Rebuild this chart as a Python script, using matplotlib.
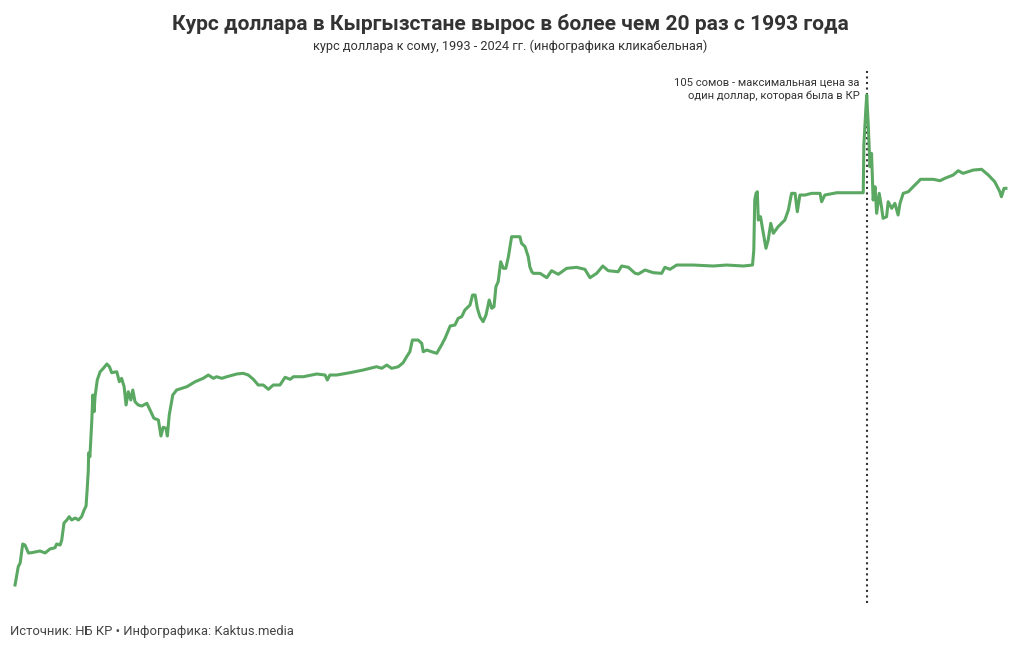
import matplotlib.pyplot as plt

plt.rcParams['font.family'] = ['Roboto', 'DejaVu Sans']

# position along the period (years, approximate) and som per 1 USD
t = [1993.40, 1993.50, 1993.56, 1993.64, 1993.71, 1993.82, 1993.92, 1994.18, 1994.34, 1994.49,
     1994.65, 1994.70, 1994.81, 1994.86, 1994.93, 1995.02, 1995.09, 1995.17, 1995.28, 1995.38,
     1995.48, 1995.56, 1995.62, 1995.66, 1995.69, 1995.70, 1995.74, 1995.80, 1995.83, 1995.87,
     1995.90, 1995.97, 1996.06, 1996.16, 1996.27, 1996.35, 1996.42, 1996.58, 1996.66, 1996.73,
     1996.81, 1996.87, 1996.94, 1997.02, 1997.08, 1997.15, 1997.25, 1997.36, 1997.52, 1997.62,
     1997.74, 1997.88, 1997.96, 1998.03, 1998.12, 1998.16, 1998.22, 1998.33, 1998.45, 1998.77,
     1999.03, 1999.28, 1999.44, 1999.60, 1999.70, 1999.86, 2000.02, 2000.33, 2000.53, 2000.69,
     2000.85, 2001.00, 2001.16, 2001.32, 2001.47, 2001.68, 2001.84, 2002.00, 2002.10, 2002.41,
     2002.83, 2003.09, 2003.16, 2003.24, 2003.45, 2003.87, 2004.28, 2004.70, 2004.86, 2005.02,
     2005.17, 2005.38, 2005.53, 2005.64, 2005.74, 2005.82, 2006.00, 2006.11, 2006.16, 2006.27,
     2006.42, 2006.58, 2006.73, 2006.84, 2007.00, 2007.15, 2007.25, 2007.36, 2007.46, 2007.62,
     2007.70, 2007.78, 2007.85, 2007.93, 2008.03, 2008.12, 2008.22, 2008.30, 2008.37, 2008.43,
     2008.50, 2008.58, 2008.66, 2008.74, 2008.82, 2008.92, 2009.18, 2009.23, 2009.34, 2009.44,
     2009.49, 2009.55, 2009.60, 2009.81, 2010.02, 2010.17, 2010.38, 2010.64, 2010.95, 2011.21,
     2011.37, 2011.58, 2011.77, 2011.94, 2012.25, 2012.36, 2012.57, 2012.78, 2012.88, 2013.09,
     2013.35, 2013.61, 2013.71, 2013.87, 2014.08, 2014.60, 2015.22, 2015.64, 2016.16, 2016.45,
     2016.49, 2016.52, 2016.56, 2016.60, 2016.63, 2016.70, 2016.77, 2016.87, 2016.94, 2017.02,
     2017.10, 2017.25, 2017.46, 2017.57, 2017.67, 2017.78, 2017.85, 2017.93, 2018.09, 2018.30,
     2018.56, 2018.61, 2018.71, 2019.08, 2019.91, 2019.93, 2019.99, 2020.02, 2020.07, 2020.12,
     2020.17, 2020.22, 2020.28, 2020.33, 2020.41, 2020.48, 2020.53, 2020.64, 2020.69, 2020.80,
     2020.90, 2021.00, 2021.06, 2021.16, 2021.32, 2021.47, 2021.63, 2021.70, 2022.10, 2022.31,
     2022.46, 2022.72, 2022.88, 2023.03, 2023.35, 2023.61, 2023.82, 2024.02, 2024.18, 2024.23,
     2024.31, 2024.37]
rate = [4.00, 7.77, 8.53, 12.45, 12.24, 10.60, 10.66, 11.01, 10.60, 11.42,
        11.69, 12.45, 12.24, 13.27, 16.78, 17.40, 18.08, 17.40, 17.81, 17.40,
        18.08, 19.46, 20.28, 24.26, 27.70, 31.21, 30.44, 38.01, 43.16, 39.72,
        42.81, 46.25, 47.96, 48.66, 49.55, 49.00, 47.76, 47.96, 45.90, 46.60,
        44.87, 41.10, 43.84, 42.13, 44.19, 41.78, 41.10, 40.89, 41.45, 40.07,
        38.36, 38.01, 34.71, 36.50, 36.30, 34.71, 39.04, 43.16, 44.19, 44.87,
        45.90, 46.60, 47.28, 46.60, 46.93, 46.60, 46.93, 47.49, 47.63, 47.28,
        46.39, 45.22, 45.22, 44.33, 45.22, 45.22, 46.81, 46.39, 46.93, 46.93,
        47.49, 47.28, 46.25, 47.28, 47.28, 47.76, 48.31, 48.99, 48.66, 49.34,
        48.66, 48.99, 49.82, 51.05, 52.08, 54.49, 54.49, 53.82, 52.08, 52.43,
        52.08, 51.75, 53.46, 54.85, 57.38, 57.59, 58.97, 59.30, 60.68, 61.71,
        63.77, 63.77, 61.03, 59.30, 58.27, 59.65, 62.74, 61.03, 61.36, 65.48,
        66.51, 70.63, 69.27, 69.27, 71.66, 75.79, 75.79, 74.43, 73.73, 71.66,
        69.60, 68.57, 68.24, 68.24, 67.34, 68.78, 68.04, 69.27, 69.48, 69.07,
        67.34, 68.24, 69.75, 68.78, 68.57, 69.75, 69.48, 68.24, 68.10, 68.92,
        68.37, 68.24, 69.48, 69.07, 69.95, 69.95, 69.75, 69.95, 69.75, 69.95,
        73.04, 83.35, 84.73, 85.06, 79.23, 79.91, 77.17, 73.40, 75.10, 78.55,
        76.49, 77.85, 79.23, 81.29, 84.73, 84.73, 80.94, 84.38, 84.38, 84.73,
        84.73, 83.00, 84.38, 84.85, 84.85, 94.68, 101.90, 105.00, 98.46, 90.21,
        92.97, 83.35, 86.09, 80.61, 84.73, 81.97, 79.58, 79.91, 83.00, 81.64,
        82.67, 80.26, 82.67, 84.73, 85.06, 86.09, 87.12, 87.62, 87.62, 87.33,
        87.82, 88.50, 89.39, 88.85, 89.53, 89.68, 88.50, 87.12, 85.06, 84.03,
        85.76, 85.76]

title = 'Курс доллара в Кыргызстане вырос в более чем 20 раз с 1993 года'
subtitle = 'курс доллара к сому, 1993 - 2024 гг. (инфографика кликабельная)'
source = 'Источник: НБ КР • Инфографика: Kaktus.media'
note = '105 сомов - максимальная цена за\nодин доллар, которая была в КР'

fig = plt.figure(figsize=(10.2, 6.5), dpi=100)
ax = fig.add_axes([0, 0, 1, 1])
ax.plot(t, rate, color='#5aa862', lw=2.2, solid_joinstyle='round', zorder=3)

imax = rate.index(max(rate))
ax.axvline(t[imax], ymin=0.072, ymax=0.893, color='#333333', lw=1.5, ls=':', zorder=2)
ax.annotate(note, xy=(t[imax], rate[imax]), xytext=(-7, 6), textcoords='offset pixels',
            ha='right', va='center', multialignment='right', fontsize=8.1, color='#333333',
            linespacing=1.35)

ax.set_xlim(1992.93, 2024.81)
ax.set_ylim(-9.4, 124.58)
ax.axis('off')

fig.text(0.5, 1 - 24 / 650, title, ha='center', va='center', fontsize=15.15,
         fontweight='bold', color='#333333')
fig.text(0.5, 1 - 46 / 650, subtitle, ha='center', va='center', fontsize=9.2, color='#333333')
fig.text(10 / 1020, 1 - 632 / 650, source, ha='left', va='center', fontsize=9.4, color='#444444')

fig.savefig('out.png', dpi=100)
